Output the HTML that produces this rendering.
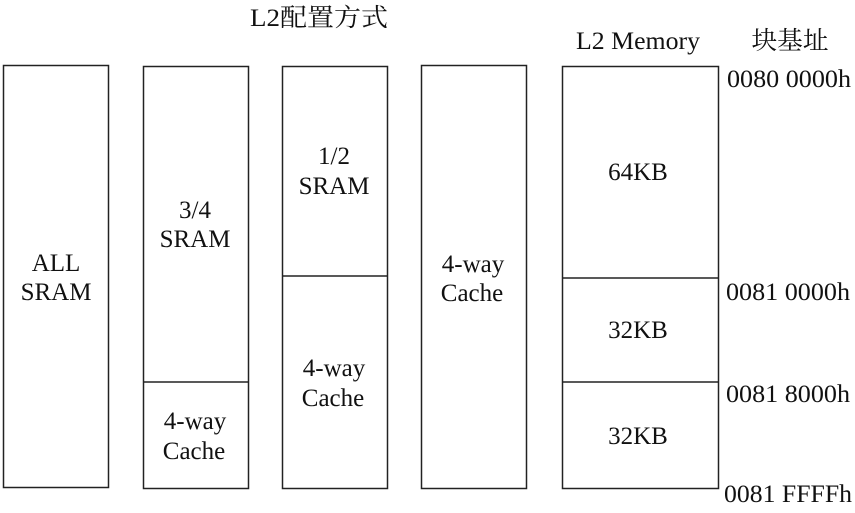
<!DOCTYPE html>
<html><head><meta charset="utf-8"><style>
html,body{margin:0;padding:0;background:#fff;}
body{width:855px;height:508px;overflow:hidden;position:relative;}
svg text{font-family:"Liberation Serif","Noto Serif CJK SC",serif;fill:#111;}
</style></head><body>
<svg width="855" height="508" xmlns="http://www.w3.org/2000/svg">
<g fill="none" stroke="#222" stroke-width="1.5">
<rect x="3.5" y="65.5" width="105" height="422"/>
<rect x="143.5" y="66.5" width="105" height="422"/>
<line x1="143.5" y1="382" x2="248.5" y2="382"/>
<rect x="282.5" y="66.5" width="105" height="422"/>
<line x1="282.5" y1="276" x2="387.5" y2="276"/>
<rect x="421.5" y="65.5" width="105" height="423"/>
<rect x="562.5" y="66.5" width="156" height="422"/>
<line x1="562.5" y1="278" x2="718.5" y2="278"/>
<line x1="562.5" y1="382" x2="718.5" y2="382"/>
</g>
<g font-size="25" text-anchor="middle">
<text x="319" y="26" textLength="138" lengthAdjust="spacingAndGlyphs">L2配置方式</text>
<text x="638" y="49" textLength="124" lengthAdjust="spacingAndGlyphs">L2 Memory</text>
<text x="790" y="49" textLength="77" lengthAdjust="spacingAndGlyphs">块基址</text>
<text x="56" y="271">ALL</text>
<text x="56" y="300">SRAM</text>
<text x="195" y="218">3/4</text>
<text x="195" y="247">SRAM</text>
<text x="195" y="429">4-way</text>
<text x="194" y="459">Cache</text>
<text x="334" y="164">1/2</text>
<text x="334" y="194">SRAM</text>
<text x="334" y="376">4-way</text>
<text x="333" y="406">Cache</text>
<text x="473" y="272">4-way</text>
<text x="472" y="301">Cache</text>
<text x="638" y="180">64KB</text>
<text x="638" y="338">32KB</text>
<text x="638" y="444">32KB</text>
</g>
<g font-size="25">
<text x="727" y="87" textLength="124" lengthAdjust="spacingAndGlyphs">0080 0000h</text>
<text x="726" y="300" textLength="124" lengthAdjust="spacingAndGlyphs">0081 0000h</text>
<text x="726" y="402" textLength="124" lengthAdjust="spacingAndGlyphs">0081 8000h</text>
<text x="724" y="502" textLength="128" lengthAdjust="spacingAndGlyphs">0081 FFFFh</text>
</g>
</svg>
</body></html>
